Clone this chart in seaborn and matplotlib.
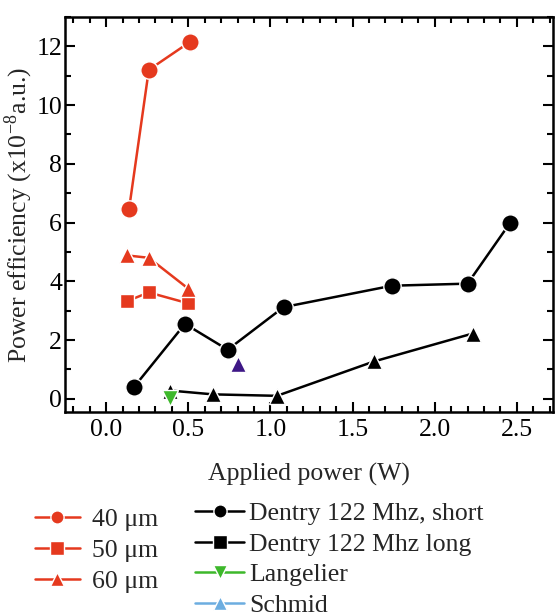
import numpy as np
import pandas as pd
import matplotlib
matplotlib.use("Agg")
import matplotlib.pyplot as plt
from matplotlib.lines import Line2D
from matplotlib.ticker import MultipleLocator, FormatStrFormatter
import seaborn as sns

# data
x_40 = [0.14, 0.26, 0.51]
y_40 = [6.47, 11.2, 12.15]
x_50 = [0.13, 0.26, 0.50]
y_50 = [3.33, 3.62, 3.25]
x_60 = [0.13, 0.26, 0.50]
y_60 = [4.88, 4.80, 3.75]
x_short = [0.17, 0.48, 0.74, 1.08, 1.74, 2.20, 2.46]
y_short = [0.40, 2.55, 1.67, 3.12, 3.85, 3.92, 6.00]
x_long = [0.39, 0.65, 1.04, 1.63, 2.23]
y_long = [0.28, 0.15, 0.10, 1.27, 2.22]
x_lang = [0.39]
y_lang = [0.02]
x_other = [0.80]
y_other = [1.17]

RED = "#E5391E"
GREEN = "#3DB82B"
BLUE = "#6CADE0"
PURPLE = "#3E1786"
FS = 18.5

sns.set_theme(style="ticks")
plt.rcParams["font.family"] = ["Liberation Serif", "DejaVu Serif"]
plt.rcParams["mathtext.fontset"] = "stix"

fig = plt.figure(figsize=(5.58, 6.16), dpi=100)
ax = fig.add_axes([0.1165, 0.3312, 0.8746, 0.6412])


def draw(xs, ys, color, marker, ms):
    df = pd.DataFrame({"x": xs, "y": ys})
    sns.lineplot(data=df, x="x", y="y", ax=ax, color=color, marker=marker,
                 markersize=ms, markeredgecolor="white", markeredgewidth=1.0,
                 linewidth=1.8, sort=False, estimator=None)


draw(x_40, y_40, RED, "o", 12.5)
draw(x_50, y_50, RED, "s", 10)
draw(x_60, y_60, RED, "^", 11)
draw(x_short, y_short, "black", "o", 12.5)
draw(x_long, y_long, "black", "^", 11.5)
draw(x_lang, y_lang, GREEN, "v", 11)
draw(x_other, y_other, PURPLE, "^", 11)

ax.set_xlim(-0.25, 2.72)
ax.set_ylim(-0.45, 13.0)
ax.xaxis.set_major_locator(MultipleLocator(0.5))
ax.xaxis.set_minor_locator(MultipleLocator(0.1))
ax.yaxis.set_major_locator(MultipleLocator(2))
ax.yaxis.set_minor_locator(MultipleLocator(1))
ax.xaxis.set_major_formatter(FormatStrFormatter("%.1f"))
ax.tick_params(which="both", direction="in", top=True, right=True,
               labelsize=FS, width=1.5, colors="black")
ax.tick_params(axis="x", pad=5)
ax.tick_params(axis="y", pad=2)
ax.tick_params(which="major", length=7)
ax.tick_params(which="minor", length=4)
for s in ax.spines.values():
    s.set_linewidth(1.8)
    s.set_color("black")

ax.set_xlabel("Applied power (W)", fontsize=FS, labelpad=16)
ax.set_ylabel("Power efficiency (x10$^{\\mathregular{-8}}$a.u.)", fontsize=FS,
              labelpad=1)


def handle(color, marker, ms=9.5):
    return Line2D([], [], color=color, marker=marker, markersize=ms,
                  linewidth=1.8, markeredgecolor="white", markeredgewidth=1.0)


fig.legend(
    [handle(RED, "o"), handle(RED, "s"), handle(RED, "^")],
    ["40 μm", "50 μm", "60 μm"],
    loc="upper left", bbox_to_anchor=(0.062, 0.175), frameon=False,
    fontsize=FS, handlelength=1.75, labelspacing=0.3, handletextpad=0.5,
    borderaxespad=0, borderpad=0)
fig.legend(
    [handle("black", "o"), handle("black", "s"), handle(GREEN, "v"),
     handle(BLUE, "^")],
    ["Dentry 122 Mhz, short", "Dentry 122 Mhz long", "Langelier", "Schmid"],
    loc="upper left", bbox_to_anchor=(0.35, 0.185), frameon=False,
    fontsize=FS, handlelength=1.9, labelspacing=0.3, handletextpad=0.2,
    borderaxespad=0, borderpad=0)

fig.savefig("out.png", dpi=100)
